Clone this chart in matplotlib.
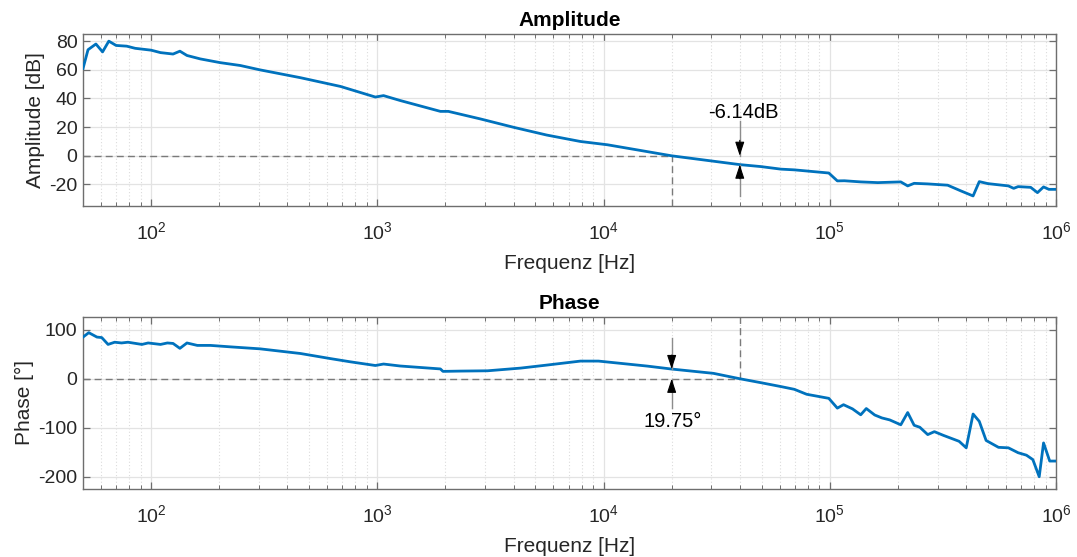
import numpy as np
import matplotlib
matplotlib.use("Agg")
import matplotlib.pyplot as plt
from matplotlib.ticker import LogLocator, NullFormatter

plt.rcParams['font.family'] = ['Liberation Sans', 'DejaVu Sans']
plt.rcParams['mathtext.fontset'] = 'custom'
plt.rcParams['mathtext.rm'] = 'Liberation Sans'
plt.rcParams['mathtext.it'] = 'Liberation Sans'
plt.rcParams['axes.unicode_minus'] = False

# Measured frequency response
amp_freq = [50, 52.6, 57, 61, 65, 70, 78, 85, 100, 110, 125, 134, 144, 165, 202,
            248, 302, 457, 687, 980, 1065, 1260, 1900, 2060, 2860, 4000, 5600,
            7900, 10400, 14000, 20000, 40000, 49500, 60800, 69700, 99000, 108000,
            116000, 137000, 163000, 206000, 221000, 236000, 271000, 332000, 380000,
            430000, 458000, 500000, 616000, 650000, 680000, 773000, 828000, 881000,
            930000, 1000000]
amp_db = [61, 74, 78, 72.5, 80, 77, 76.5, 75, 73.7, 72, 71, 73, 70, 67.6, 65,
          63, 60, 54.5, 48.4, 41, 42, 38.6, 31, 31, 25.7, 19.9, 14.5,
          10, 7.7, 4.2, 0.0, -6.14, -7.5, -9.3, -9.8, -12, -17.5,
          -17.4, -18.2, -18.7, -18.2, -21, -19.2, -19.6, -20.5, -24.5,
          -28, -18, -19.4, -21, -22.7, -21.5, -22, -25.7, -21.7,
          -23.4, -23.4]

ph_freq = [50, 53, 57.6, 60.5, 64.5, 69, 74, 79, 91, 97, 110, 118, 125, 134, 144,
           160, 183, 225, 303, 457, 622, 760, 980, 1065, 1260, 1900, 1950, 2330,
           3070, 4300, 5600, 7900, 9500, 11000, 15600, 20000, 30600, 40000, 49500,
           60800, 69700, 79000, 99000, 108000, 115000, 126000, 137000, 145000,
           158000, 170000, 184000, 206000, 221000, 236000, 250000, 271000, 290000,
           318000, 373000, 401000, 430000, 458000, 491000, 557000, 616000, 680000,
           740000, 790000, 843000, 881000, 938000, 1000000]
ph_deg = [85, 94, 85, 84, 70, 74.5, 73, 74.5, 70, 73, 70, 73, 72, 62, 73,
          68, 68, 65, 61, 51.5, 41, 34.5, 27, 30, 26, 20, 15, 15.6,
          16.2, 21.7, 27.8, 36, 36, 33, 25.8, 19.75, 11, 0, -8,
          -16, -21.6, -31.7, -40, -60, -53, -61.5, -73.6, -60.8,
          -74, -80, -84, -94, -69, -95, -99, -114, -108,
          -115.6, -127.7, -141, -72, -87, -126, -140, -141, -151,
          -156, -165, -200, -131, -168, -168]

# Crossover frequencies and margins
f_gain_cross = 20000    # amplitude crosses 0 dB
f_phase_cross = 40000   # phase crosses 0 deg
gain_margin = -6.14
phase_margin = 19.75

line_color = '#0072BD'
axis_color = '#6e6e6e'
text_color = '#262626'
stem_color = '#8c8c8c'
dash_color = '#7a7a7a'

TICK_FS = 14
LABEL_FS = 15
TITLE_FS = 15
NOTE_FS = 14.5

fig = plt.figure(figsize=(10.77, 5.57), dpi=100)
ax1 = fig.add_axes([0.0771, 0.6302, 0.9034, 0.3088])
ax2 = fig.add_axes([0.0771, 0.1221, 0.9034, 0.3088])


def style(ax):
    ax.set_xscale('log')
    ax.set_xlim(50, 1e6)
    ax.xaxis.set_major_locator(LogLocator(base=10, numticks=10))
    ax.xaxis.set_minor_locator(LogLocator(base=10, subs=np.arange(2, 10), numticks=20))
    ax.xaxis.set_minor_formatter(NullFormatter())
    ax.grid(True, which='major', color='#e3e3e3', lw=0.9, ls='-')
    ax.grid(True, which='minor', axis='x', color='#dcdcdc', lw=0.8, ls=(0, (1, 2)))
    ax.set_axisbelow(True)
    for s in ax.spines.values():
        s.set_color(axis_color)
        s.set_linewidth(1.0)
    ax.tick_params(which='both', direction='in', top=True, right=True,
                   colors=axis_color, labelcolor=text_color, labelsize=TICK_FS)
    ax.tick_params(which='major', length=5, width=0.9)
    ax.tick_params(which='minor', length=3, width=0.7)
    ax.tick_params(axis='x', which='major', pad=11)
    ax.tick_params(axis='y', which='major', pad=4)
    ax.set_xlabel('Frequenz [Hz]', fontsize=LABEL_FS, color=text_color, labelpad=7.5)


def marker_arrow(ax, x, y_from, y_to):
    # gray stem with a black arrow head at y_to
    ax.plot([x, x], [y_from, y_to], color=stem_color, lw=1.0, zorder=4)
    y_mid = y_to + (y_from - y_to) * 0.45
    ax.annotate('', xy=(x, y_to), xytext=(x, y_mid),
                arrowprops=dict(arrowstyle='-|>,head_length=0.85,head_width=0.28',
                                color='black', lw=0.8, shrinkA=0, shrinkB=0),
                zorder=5)


# Amplitude
style(ax1)
ax1.set_ylim(-35, 85)
ax1.set_yticks([-20, 0, 20, 40, 60, 80])
ax1.plot([50, f_gain_cross], [0, 0], color=dash_color, lw=1.0, ls=(0, (5, 3)), zorder=2)
ax1.plot([f_gain_cross, f_gain_cross], [-35, 0], color=dash_color, lw=1.0, ls=(0, (5, 3)), zorder=2)
ax1.plot(amp_freq, amp_db, color=line_color, lw=2.0, zorder=3)
marker_arrow(ax1, f_phase_cross, 24, 0)
marker_arrow(ax1, f_phase_cross, -28, gain_margin)
ax1.text(f_phase_cross * 1.04, 30, f'{gain_margin:.2f}dB', ha='center', va='center',
         fontsize=NOTE_FS, color='black')
ax1.set_ylabel('Amplitude [dB]', fontsize=LABEL_FS, color=text_color, labelpad=3)
ax1.set_title('Amplitude', fontsize=TITLE_FS, fontweight='bold', color='black', pad=6)

# Phase
style(ax2)
ax2.set_ylim(-225, 126)
ax2.set_yticks([-200, -100, 0, 100])
ax2.plot([50, f_phase_cross], [0, 0], color=dash_color, lw=1.0, ls=(0, (5, 3)), zorder=2)
ax2.plot([f_phase_cross, f_phase_cross], [0, 126], color=dash_color, lw=1.0, ls=(0, (5, 3)), zorder=2)
ax2.plot(ph_freq, ph_deg, color=line_color, lw=2.0, zorder=3)
marker_arrow(ax2, f_gain_cross, 83, phase_margin)
marker_arrow(ax2, f_gain_cross, -59, 0)
ax2.text(f_gain_cross * 1.01, -88, f'{phase_margin:.2f}°', ha='center', va='center',
         fontsize=NOTE_FS, color='black')
ax2.set_ylabel('Phase [°]', fontsize=LABEL_FS, color=text_color, labelpad=3)
ax2.set_title('Phase', fontsize=TITLE_FS, fontweight='bold', color='black', pad=6)

fig.savefig('out.png', dpi=100)
